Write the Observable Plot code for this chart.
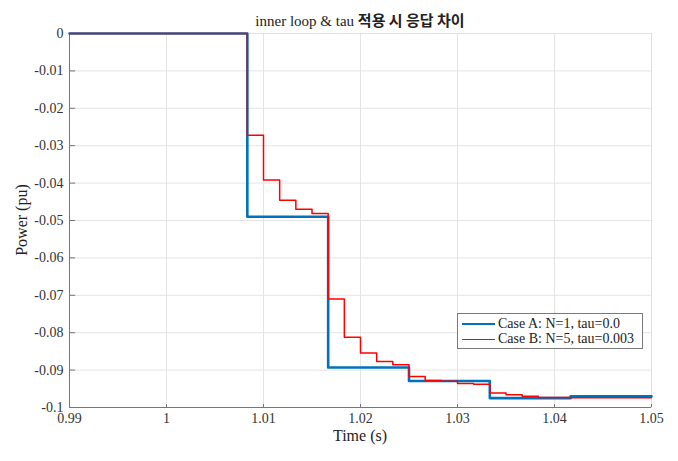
<!DOCTYPE html>
<html><head><meta charset="utf-8">
<script src="https://cdn.jsdelivr.net/npm/d3@7"></script>
<script src="https://cdn.jsdelivr.net/npm/@observablehq/plot@0.6"></script>
<style>
body{margin:0;background:#fff;}
#wrap{position:relative;width:678px;height:461px;font-family:"Liberation Serif",serif;}
#title{position:absolute;left:0;width:720px;top:9px;text-align:center;font-size:15px;color:#222;}
#title .la{font-family:"Liberation Serif",serif;}
#title .ko{font-family:"Noto Sans CJK KR",sans-serif;font-weight:bold;font-size:15px;}
#xl{position:absolute;left:0;width:720px;top:428px;line-height:16px;text-align:center;font-size:16px;color:#222;}
#yl{position:absolute;left:22px;top:220px;line-height:16px;transform:translate(-50%,-50%) rotate(-90deg);font-size:16px;color:#222;white-space:nowrap;}
#legend{position:absolute;left:457px;top:313px;width:184px;height:34px;border:1px solid #7a7a7a;background:#fff;font-size:14px;color:#222;}
.row{position:absolute;left:0;height:16px;line-height:16px;white-space:nowrap;}
.sw{position:absolute;left:4px;width:33px;top:8px;}
.lt{position:absolute;left:40px;top:0;}
</style></head>
<body><div id="wrap"><div id="plot"></div>
<div id="title"><span class="la">inner loop &amp; tau</span> <span class="ko">적용 시 응답 차이</span></div>
<div id="xl">Time (s)</div>
<div id="yl">Power (pu)</div>
<div id="legend"></div>
</div>
<script>
const xTicks = [0.99, 1.00, 1.01, 1.02, 1.03, 1.04, 1.05];
const yTicks = [0, -0.01, -0.02, -0.03, -0.04, -0.05, -0.06, -0.07, -0.08, -0.09, -0.1];
const seriesNames = ["Case A: N=1, tau=0.0", "Case B: N=5, tau=0.003"];
const seriesColors = ["#0072BD", "#FF0000"];
const timeA = [0.99, 1.008333, 1.016667, 1.025, 1.033333, 1.041667, 1.05];
const powerA = [0, -0.0490, -0.0893, -0.0929, -0.0975, -0.0970, -0.0970];
const timeB = [0.99, 1.008333, 1.010, 1.011667, 1.013333, 1.015, 1.016667, 1.018333, 1.020, 1.021667, 1.023333,
  1.025, 1.026667, 1.028333, 1.030, 1.031667, 1.033333, 1.035, 1.036667, 1.038333, 1.040, 1.041667, 1.05];
const powerB = [0, -0.0272, -0.0392, -0.0446, -0.0470, -0.0481, -0.0710, -0.0812, -0.0854, -0.0877, -0.0886,
  -0.0917, -0.0928, -0.0930, -0.0936, -0.0938, -0.0961, -0.0966, -0.0970, -0.0973, -0.0973, -0.0974, -0.0974];

const dataA = timeA.map((t, i) => ({t, p: powerA[i]}));
const dataB = timeB.map((t, i) => ({t, p: powerB[i]}));
const fmt = d => (+d.toFixed(2)).toString();

const chart = Plot.plot({
  width: 678, height: 461,
  marginLeft: 69, marginRight: 27, marginTop: 33, marginBottom: 54,
  style: {fontSize: "14px", color: "#222", background: "#fff"},
  x: {domain: [0.99, 1.05]},
  y: {domain: [-0.1, 0]},
  marks: [
    Plot.gridX(xTicks, {stroke: "#e4e4e4", strokeOpacity: 1}),
    Plot.gridY(yTicks, {stroke: "#e4e4e4", strokeOpacity: 1}),
    Plot.frame({stroke: "#e0e0e0"}),
    Plot.axisX(xTicks, {tickSize: 0, tickPadding: 6, tickFormat: fmt, label: null, fill: "#333"}),
    Plot.axisY(yTicks, {tickSize: 0, tickPadding: 6, tickFormat: fmt, label: null, fill: "#333"}),
    Plot.ruleX(xTicks, {y1: -0.1, y2: -0.0992, stroke: "#777"}),
    Plot.ruleY(yTicks, {x1: 0.99, x2: 0.99063, stroke: "#777"}),
    Plot.ruleX([0.99], {stroke: "#777"}),
    Plot.ruleY([-0.1], {stroke: "#777"}),
    Plot.line(dataA, {x: "t", y: "p", curve: "step-after", stroke: seriesColors[0], strokeWidth: 2.6}),
    Plot.line(dataB, {x: "t", y: "p", curve: "step-after", stroke: seriesColors[1], strokeWidth: 1.5})
  ]
});
d3.select(chart).attr("font-family", "Liberation Serif");
d3.select(chart).selectAll("text").attr("font-family", "Liberation Serif").attr("font-size", 14);
document.getElementById("plot").appendChild(chart);

const leg = document.getElementById("legend");
seriesNames.forEach((n, i) => {
  const r = document.createElement("div");
  r.className = "row";
  r.style.top = (i === 0 ? 2 : 17) + "px";
  r.innerHTML = `<div class="sw" style="border-top:${i === 0 ? 2.6 : 1.5}px solid ${seriesColors[i]};margin-top:${i === 0 ? -1 : 0}px"></div><div class="lt">${n}</div>`;
  leg.appendChild(r);
});
</script></body></html>
